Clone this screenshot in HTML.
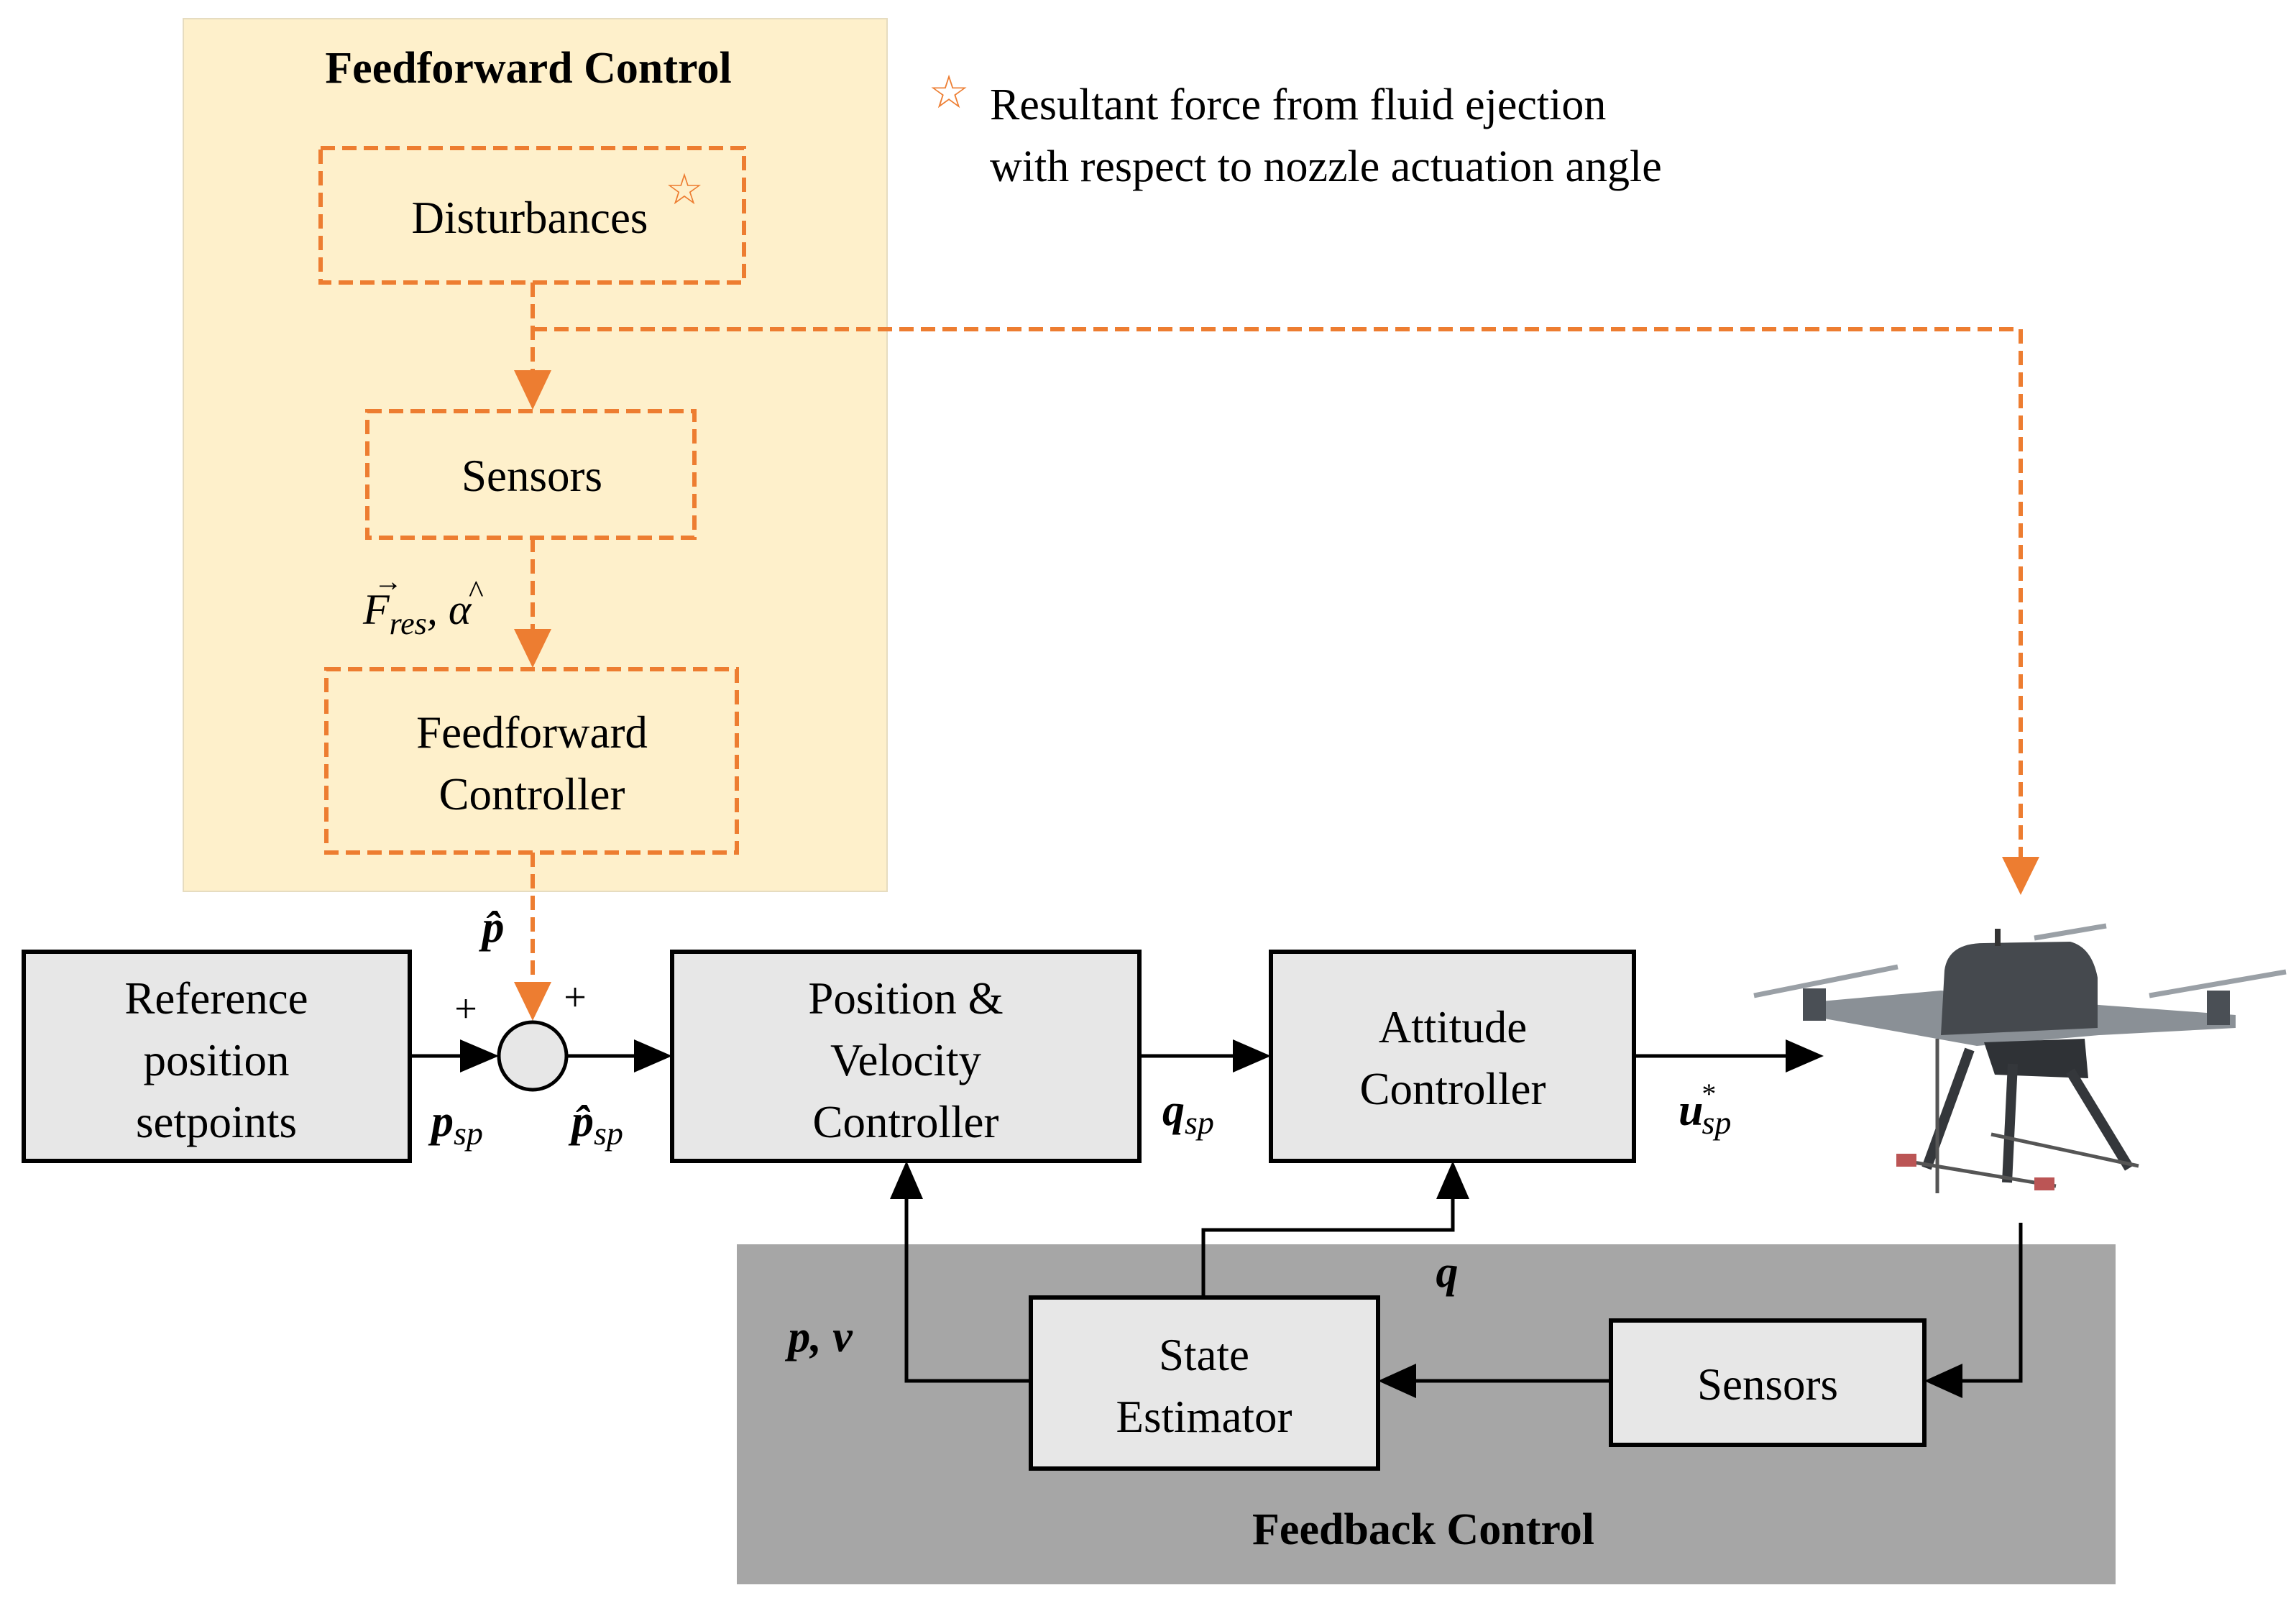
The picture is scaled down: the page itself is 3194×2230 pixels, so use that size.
<!DOCTYPE html>
<html><head><meta charset="utf-8"><style>
html,body{margin:0;padding:0;background:#fff}
svg{display:block}
text{font-family:"Liberation Serif","Times New Roman","Nimbus Roman","DejaVu Serif",serif;fill:#000}
</style></head><body>
<svg width="3194" height="2230" viewBox="0 0 3194 2230" xmlns="http://www.w3.org/2000/svg" font-family="Liberation Serif, Times New Roman, serif">
<!-- Feedforward region -->
<rect x="255" y="26" width="979" height="1214" fill="#fef0cb" stroke="#e6dcc0" stroke-width="2"/>
<text x="735" y="115" font-size="62" font-weight="bold" text-anchor="middle">Feedforward Control</text>

<g fill="none" stroke="#ed7d31" stroke-width="6" stroke-dasharray="20,10">
<rect x="446" y="206" width="589" height="187"/>
<rect x="511" y="572" width="455" height="176"/>
<rect x="454" y="931" width="571" height="255"/>
<line x1="741" y1="393" x2="741" y2="520"/>
<line x1="741" y1="458" x2="2811" y2="458"/>
<line x1="2811" y1="458" x2="2811" y2="1195"/>
<line x1="741" y1="748" x2="741" y2="878"/>
<line x1="741" y1="1186" x2="741" y2="1365"/>
</g>
<g fill="#ed7d31">
<polygon points="715,515 767,515 741,570"/>
<polygon points="715,875 767,875 741,929"/>
<polygon points="2785,1192 2837,1192 2811,1245"/>
<polygon points="715,1366 767,1366 741,1420"/>
</g>

<text x="737" y="324" font-size="63" text-anchor="middle">Disturbances</text>
<text x="952" y="284" font-size="60" text-anchor="middle" style="fill:#ed7d31">☆</text>
<text x="740" y="683" font-size="63" text-anchor="middle">Sensors</text>
<text x="740" y="1040" font-size="63" text-anchor="middle">Feedforward</text>
<text x="740" y="1126" font-size="63" text-anchor="middle">Controller</text>
<text x="505" y="868" font-size="60" font-style="italic">F<tspan font-size="44" dy="14">res</tspan><tspan dy="-14">, α</tspan></text>
<text x="520" y="822" font-size="40">→</text>
<text x="652" y="838" font-size="44">^</text>

<!-- Legend -->
<text x="1320" y="150" font-size="64" text-anchor="middle" style="fill:#ed7d31">☆</text>
<text x="1377" y="166" font-size="62">Resultant force from fluid ejection</text>
<text x="1377" y="252" font-size="62">with respect to nozzle actuation angle</text>

<!-- Feedback region -->
<rect x="1025" y="1731" width="1918" height="473" fill="#a6a6a6"/>
<text x="1980" y="2148" font-size="62" font-weight="bold" text-anchor="middle">Feedback Control</text>

<!-- Boxes -->
<g fill="#e7e7e7" stroke="#000" stroke-width="6">
<rect x="33" y="1324" width="537" height="291"/>
<rect x="935" y="1324" width="650" height="291"/>
<rect x="1768" y="1324" width="505" height="291"/>
<rect x="1434" y="1805" width="483" height="238"/>
<rect x="2241" y="1837" width="436" height="173"/>
<circle cx="741" cy="1469" r="47" stroke-width="5"/>
</g>
<text x="301" y="1410" font-size="63" text-anchor="middle">Reference</text>
<text x="301" y="1496" font-size="63" text-anchor="middle">position</text>
<text x="301" y="1582" font-size="63" text-anchor="middle">setpoints</text>
<text x="1260" y="1410" font-size="63" text-anchor="middle">Position &amp;</text>
<text x="1260" y="1496" font-size="63" text-anchor="middle">Velocity</text>
<text x="1260" y="1582" font-size="63" text-anchor="middle">Controller</text>
<text x="2021" y="1450" font-size="63" text-anchor="middle">Attitude</text>
<text x="2021" y="1536" font-size="63" text-anchor="middle">Controller</text>
<text x="1675" y="1906" font-size="63" text-anchor="middle">State</text>
<text x="1675" y="1992" font-size="63" text-anchor="middle">Estimator</text>
<text x="2459" y="1947" font-size="63" text-anchor="middle">Sensors</text>

<!-- Black connectors -->
<g stroke="#000" stroke-width="5" fill="none">
<line x1="570" y1="1469" x2="650" y2="1469"/>
<line x1="788" y1="1469" x2="890" y2="1469"/>
<line x1="1585" y1="1469" x2="1720" y2="1469"/>
<line x1="2273" y1="1469" x2="2490" y2="1469"/>
<polyline points="2811,1701 2811,1921 2720,1921"/>
<line x1="2241" y1="1921" x2="1960" y2="1921"/>
<polyline points="1434,1921 1261,1921 1261,1665"/>
<polyline points="1674,1805 1674,1711 2021,1711 2021,1665"/>
</g>
<g fill="#000">
<polygon points="640,1446 694,1469 640,1492"/>
<polygon points="882,1446 935,1469 882,1492"/>
<polygon points="1715,1446 1768,1469 1715,1492"/>
<polygon points="2484,1446 2537,1469 2484,1492"/>
<polygon points="2730,1897 2677,1921 2730,1945"/>
<polygon points="1970,1897 1917,1921 1970,1945"/>
<polygon points="1238,1668 1261,1615 1284,1668"/>
<polygon points="1998,1668 2021,1615 2044,1668"/>
</g>

<!-- labels -->
<text x="648" y="1422" font-size="56" text-anchor="middle">+</text>
<text x="800" y="1406" font-size="56" text-anchor="middle">+</text>
<text x="686" y="1310" font-size="62" font-weight="bold" font-style="italic" text-anchor="middle">p̂</text>
<text x="600" y="1580" font-size="62" font-weight="bold" font-style="italic">p<tspan font-size="46" font-weight="normal" dy="12">sp</tspan></text>
<text x="795" y="1580" font-size="62" font-weight="bold" font-style="italic">p̂<tspan font-size="46" font-weight="normal" dy="12">sp</tspan></text>
<text x="1617" y="1565" font-size="62" font-weight="bold" font-style="italic">q<tspan font-size="46" font-weight="normal" dy="12">sp</tspan></text>
<text x="2335" y="1565" font-size="62" font-weight="bold" font-style="italic">u<tspan font-size="40" font-weight="normal" dy="-30" dx="-4">*</tspan><tspan font-size="46" font-weight="normal" dy="42" dx="-18">sp</tspan></text>
<text x="2013" y="1790" font-size="62" font-weight="bold" font-style="italic" text-anchor="middle">q</text>
<text x="1141" y="1880" font-size="62" font-weight="bold" font-style="italic" text-anchor="middle">p, v</text>

<!-- Drone -->
<g>
<line x1="2440" y1="1385" x2="2640" y2="1345" stroke="#9aa0a6" stroke-width="7"/>
<line x1="2830" y1="1305" x2="2930" y2="1288" stroke="#9aa0a6" stroke-width="7"/>
<line x1="2990" y1="1385" x2="3180" y2="1352" stroke="#9aa0a6" stroke-width="7"/>
<polygon points="2510,1395 2700,1378 2920,1398 3110,1412 3110,1430 2920,1440 2750,1455 2510,1412" fill="#8a9096"/>
<rect x="2508" y="1375" width="32" height="45" fill="#4a4f55"/>
<rect x="3070" y="1378" width="32" height="48" fill="#4a4f55"/>
<path d="M2705,1350 Q2710,1312 2760,1312 L2880,1310 Q2910,1318 2918,1360 L2918,1430 L2700,1440 Z" fill="#45494e"/>
<rect x="2775" y="1292" width="8" height="24" fill="#333"/>
<path d="M2760,1450 L2900,1445 L2905,1500 L2775,1495 Z" fill="#2f3236"/>
<g stroke="#34373b" stroke-width="14" fill="none">
<line x1="2740" y1="1460" x2="2680" y2="1625"/>
<line x1="2800" y1="1480" x2="2792" y2="1645"/>
<line x1="2880" y1="1490" x2="2962" y2="1625"/>
</g>
<g stroke="#555" stroke-width="5">
<line x1="2650" y1="1615" x2="2860" y2="1650"/>
<line x1="2770" y1="1578" x2="2975" y2="1622"/>
<line x1="2695" y1="1445" x2="2695" y2="1660"/>
</g>
<rect x="2638" y="1605" width="28" height="18" fill="#b55"/>
<rect x="2830" y="1638" width="28" height="18" fill="#b55"/>
</g>
</svg>
</body></html>
